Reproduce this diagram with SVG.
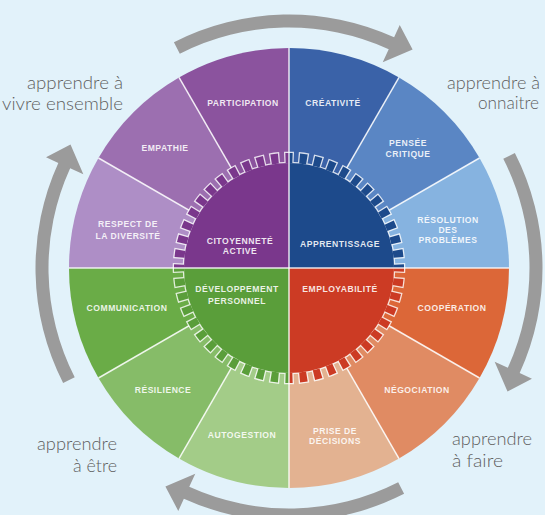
<svg xmlns="http://www.w3.org/2000/svg" width="545" height="515" viewBox="0 0 545 515">
<style>
.lbl{font-family:"Liberation Sans",Arial,sans-serif;font-weight:bold;font-size:8.6px;letter-spacing:0.5px;fill:#ffffff;fill-opacity:0.88;text-anchor:middle}
.out{font-family:Lato,"Open Sans",sans-serif;font-weight:300;font-size:17.5px;fill:#5e5e5e}
.div{stroke:#ffffff;stroke-opacity:0.85;stroke-width:1.5;fill:none}
.arrow{fill:#9b9b9b}
</style>
<defs>
<clipPath id="qTL"><rect x="0" y="0" width="289" height="268"/></clipPath>
<clipPath id="qTR"><rect x="289" y="0" width="256" height="268"/></clipPath>
<clipPath id="qBR"><rect x="289" y="268" width="256" height="247"/></clipPath>
<clipPath id="qBL"><rect x="0" y="268" width="289" height="247"/></clipPath>
</defs>
<rect width="545" height="515" fill="#e2f2fa"/>

<g id="ring">
<g id="creativite"><path d="M289 268 L289 48 A220 220 0 0 1 399 77.47 Z" fill="#3a62a8"/></g>
<g id="pensee-critique"><path d="M289 268 L399 77.47 A220 220 0 0 1 479.53 158 Z" fill="#5a86c4"/></g>
<g id="resolution"><path d="M289 268 L479.53 158 A220 220 0 0 1 509 268 Z" fill="#86b3e0"/></g>
<g id="cooperation"><path d="M289 268 L509 268 A220 220 0 0 1 479.53 378 Z" fill="#dc6738"/></g>
<g id="negociation"><path d="M289 268 L479.53 378 A220 220 0 0 1 399 458.53 Z" fill="#e08b63"/></g>
<g id="prise-decisions"><path d="M289 268 L399 458.53 A220 220 0 0 1 289 488 Z" fill="#e3b291"/></g>
<g id="autogestion"><path d="M289 268 L289 488 A220 220 0 0 1 179 458.53 Z" fill="#a3cc88"/></g>
<g id="resilience"><path d="M289 268 L179 458.53 A220 220 0 0 1 98.47 378 Z" fill="#86bc68"/></g>
<g id="communication"><path d="M289 268 L98.47 378 A220 220 0 0 1 69 268 Z" fill="#6aac47"/></g>
<g id="respect"><path d="M289 268 L69 268 A220 220 0 0 1 98.47 158 Z" fill="#ae8ec6"/></g>
<g id="empathie"><path d="M289 268 L98.47 158 A220 220 0 0 1 179 77.47 Z" fill="#9c6fb0"/></g>
<g id="participation"><path d="M289 268 L179 77.47 A220 220 0 0 1 289 48 Z" fill="#8b539e"/></g>
</g>

<g id="dividers">
<line class="div" x1="289" y1="268" x2="399" y2="77.47"/>
<line class="div" x1="289" y1="268" x2="479.53" y2="158"/>
<line class="div" x1="289" y1="268" x2="479.53" y2="378"/>
<line class="div" x1="289" y1="268" x2="399" y2="458.53"/>
<line class="div" x1="289" y1="268" x2="179" y2="458.53"/>
<line class="div" x1="289" y1="268" x2="98.47" y2="378"/>
<line class="div" x1="289" y1="268" x2="98.47" y2="158"/>
<line class="div" x1="289" y1="268" x2="179" y2="77.47"/>
</g>

<g id="gear-outline" opacity="0.8">
<circle cx="289" cy="268" r="106.3" fill="#ffffff"/>
<circle cx="289" cy="268" r="110.65" fill="none" stroke="#ffffff" stroke-width="11.3" pathLength="480" stroke-dasharray="6.8 3.2" stroke-dashoffset="3.4"/>
</g>

<g id="citoyennete" clip-path="url(#qTL)">
<circle cx="289" cy="268" r="105" fill="#7a378c"/>
<circle cx="289" cy="268" r="110" fill="none" stroke="#7a378c" stroke-width="10" pathLength="480" stroke-dasharray="5 5" stroke-dashoffset="2.5"/>
</g>
<g id="apprentissage" clip-path="url(#qTR)">
<circle cx="289" cy="268" r="105" fill="#1d4a8b"/>
<circle cx="289" cy="268" r="110" fill="none" stroke="#1d4a8b" stroke-width="10" pathLength="480" stroke-dasharray="5 5" stroke-dashoffset="2.5"/>
</g>
<g id="employabilite" clip-path="url(#qBR)">
<circle cx="289" cy="268" r="105" fill="#cc3b24"/>
<circle cx="289" cy="268" r="110" fill="none" stroke="#cc3b24" stroke-width="10" pathLength="480" stroke-dasharray="5 5" stroke-dashoffset="2.5"/>
</g>
<g id="developpement" clip-path="url(#qBL)">
<circle cx="289" cy="268" r="105" fill="#5a9e3a"/>
<circle cx="289" cy="268" r="110" fill="none" stroke="#5a9e3a" stroke-width="10" pathLength="480" stroke-dasharray="5 5" stroke-dashoffset="2.5"/>
</g>

<g id="cross">
<line class="div" x1="289" y1="48" x2="289" y2="488"/>
<line class="div" x1="69" y1="268" x2="509" y2="268"/>
</g>

<g id="labels">
<text class="lbl" x="243" y="106">PARTICIPATION</text>
<text class="lbl" x="165" y="151">EMPATHIE</text>
<text class="lbl" x="128" y="227">RESPECT DE</text>
<text class="lbl" x="128" y="239">LA DIVERSITÉ</text>
<text class="lbl" x="240" y="243.5">CITOYENNETÉ</text>
<text class="lbl" x="240" y="253.5">ACTIVE</text>
<text class="lbl" x="333" y="105.7">CRÉATIVITÉ</text>
<text class="lbl" x="408" y="146">PENSÉE</text>
<text class="lbl" x="408" y="157">CRITIQUE</text>
<text class="lbl" x="448" y="223">RÉSOLUTION</text>
<text class="lbl" x="448" y="233">DES</text>
<text class="lbl" x="448" y="243">PROBLÈMES</text>
<text class="lbl" x="340" y="247">APPRENTISSAGE</text>
<text class="lbl" x="127" y="311">COMMUNICATION</text>
<text class="lbl" x="237" y="292">DÉVELOPPEMENT</text>
<text class="lbl" x="237" y="303.5">PERSONNEL</text>
<text class="lbl" x="163" y="393">RÉSILIENCE</text>
<text class="lbl" x="242" y="438">AUTOGESTION</text>
<text class="lbl" x="340" y="292">EMPLOYABILITÉ</text>
<text class="lbl" x="452" y="311">COOPÉRATION</text>
<text class="lbl" x="417" y="393">NÉGOCIATION</text>
<text class="lbl" x="335" y="433.5">PRISE DE</text>
<text class="lbl" x="335" y="444">DÉCISIONS</text>
</g>

<g id="connectors">
<path id="arrowTop" class="arrow" d="M173.91 42.13 A253.5 253.5 0 0 1 394.12 37.33 L399.72 25.04 L412.6 49.5 L382.72 62.35 L388.73 49.15 A240.5 240.5 0 0 0 179.82 53.71 Z"/>
<path class="arrow" transform="rotate(90 289 268)" d="M173.91 42.13 A253.5 253.5 0 0 1 394.12 37.33 L399.72 25.04 L412.6 49.5 L382.72 62.35 L388.73 49.15 A240.5 240.5 0 0 0 179.82 53.71 Z"/>
<path class="arrow" transform="rotate(180 289 268)" d="M173.91 42.13 A253.5 253.5 0 0 1 394.12 37.33 L399.72 25.04 L412.6 49.5 L382.72 62.35 L388.73 49.15 A240.5 240.5 0 0 0 179.82 53.71 Z"/>
<path class="arrow" transform="rotate(270 289 268)" d="M173.91 42.13 A253.5 253.5 0 0 1 394.12 37.33 L399.72 25.04 L412.6 49.5 L382.72 62.35 L388.73 49.15 A240.5 240.5 0 0 0 179.82 53.71 Z"/>
</g>

<g id="captions">
<text class="out" x="27" y="89" textLength="96" lengthAdjust="spacingAndGlyphs">apprendre à</text>
<text class="out" x="2" y="110" textLength="121" lengthAdjust="spacingAndGlyphs">vivre ensemble</text>
<text class="out" x="447" y="89" textLength="93" lengthAdjust="spacingAndGlyphs">apprendre à</text>
<text class="out" x="478" y="109" textLength="61" lengthAdjust="spacingAndGlyphs">onnaitre</text>
<text class="out" x="452" y="445" textLength="80" lengthAdjust="spacingAndGlyphs">apprendre</text>
<text class="out" x="452" y="467" textLength="51" lengthAdjust="spacingAndGlyphs">à faire</text>
<text class="out" x="37" y="450" textLength="80" lengthAdjust="spacingAndGlyphs">apprendre</text>
<text class="out" x="73" y="472" textLength="44" lengthAdjust="spacingAndGlyphs">à être</text>
</g>
</svg>
